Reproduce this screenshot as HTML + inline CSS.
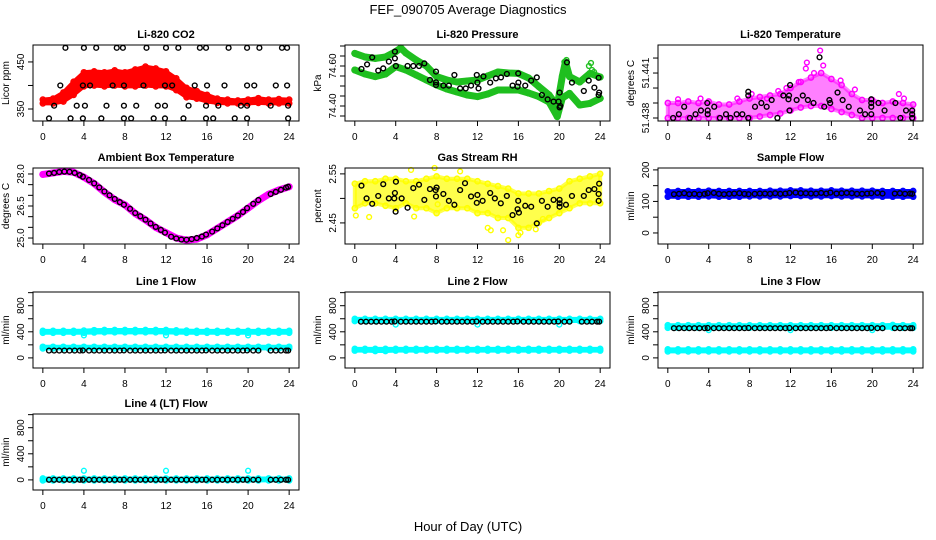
<!DOCTYPE html>
<html><head><meta charset="utf-8"><title>FEF_090705 Average Diagnostics</title>
<style>
html,body{margin:0;padding:0;background:#fff;}
svg{display:block;font-family:"Liberation Sans",sans-serif;}
</style></head>
<body>
<svg id="chart" width="936" height="540" viewBox="0 0 936 540" xmlns="http://www.w3.org/2000/svg">
<rect width="936" height="540" fill="#fff"/>
<text x="468" y="14" text-anchor="middle" font-size="13">FEF_090705  Average Diagnostics</text>
<text x="468" y="531" text-anchor="middle" font-size="13">Hour of Day (UTC)</text>
</svg>
<script>
// ---------- shared data ----------
const BLACK_HOURS=[0.6,1.1,1.6,2.1,2.6,3.1,3.6,3.9,4.5,5.0,5.5,6.0,6.5,7.0,7.5,7.9,8.5,9.0,9.5,10.0,10.5,11.0,11.5,11.9,12.5,13.0,13.5,14.0,14.5,15.0,15.5,15.9,16.5,17.0,17.5,18.0,18.5,19.0,19.5,19.9,20.5,21.0,22.2,22.7,23.2,23.7,23.9];
const HOURS=[0,1,2,3,4,5,6,7,8,9,10,11,12,13,14,15,16,17,18,19,20,21,22,23,24];
const X_TICKS=[0,4,8,12,16,20,24];

// CO2
const co2BlackX=[2.2,4.0,5.2,7.2,7.8,10.1,12.0,13.2,15.3,15.9,18.1,19.9,21.1,23.3,23.8, 1.7,3.9,4.6,6.8,7.9,9.8,11.9,12.6,14.8,16.0,17.7,19.9,20.6,22.7,23.8, 1.1,3.3,4.1,6.2,7.9,9.1,11.2,11.9,14.2,15.9,17.1,19.3,19.9,22.2,23.9, 0.6,2.7,3.9,5.7,7.9,8.6,10.8,11.9,13.7,15.9,16.6,18.7,19.9,23.9];
const co2BlackY=[480,480,480,480,480,480,480,480,480,480,480,480,480,480,480, 400,400,400,400,400,400,400,400,400,400,400,400,400,400,400, 357,357,357,357,357,357,357,357,357,357,357,357,357,357,357, 330,330,330,330,330,330,330,330,330,330,330,330,330,330];
const co2RedLo=[362,362,366,380,398,400,398,400,398,398,400,398,398,390,375,372,366,363,362,362,362,363,362,362,362];
const co2RedHi=[370,372,385,408,428,430,428,432,428,434,440,436,430,415,395,388,380,372,370,368,370,373,370,371,370];

// Pressure
const presUpX=[0,1,2,3,4,4.5,5,6,7,8,9,10,11,12,13,14,15,16,17,18,19,19.8,20.3,20.6,21,22,23,24];
const presUpY=[74.663,74.645,74.638,74.645,74.672,74.69,74.665,74.63,74.6,74.547,74.53,74.52,74.525,74.53,74.55,74.57,74.565,74.563,74.54,74.497,74.455,74.40,74.55,74.62,74.547,74.52,74.563,74.545];
const presLoX=[0,1,2,3,4,5,6,7,8,9,10,11,12,13,14,15,16,17,18,19,19.8,20.3,21,22,23,24];
const presLoY=[74.58,74.56,74.547,74.56,74.597,74.58,74.555,74.53,74.505,74.485,74.47,74.455,74.447,74.46,74.48,74.48,74.48,74.465,74.447,74.42,74.347,74.44,74.463,74.405,74.413,74.438];
const presOutX=[20.5,20.7,23.1,23.2,23.4,22.9];
const presOutY=[74.62,74.63,74.615,74.58,74.57,74.60];
const presBlackX=[0.65,1.2,1.7,2.29,2.78,3.33,3.92,3.92,4.02,5.16,5.72,6.28,6.8,7.35,7.94,7.94,7.94,8.66,9.2,9.74,10.3,10.85,11.37,11.93,11.99,12.1,12.58,13.24,13.8,14.3,14.87,15.43,15.92,16.0,15.98,16.67,17.25,17.8,18.3,18.86,19.44,19.93,20.03,20.03,20.1,20.75,21.24,22.4,22.88,23.43,23.85,23.85,23.9];
const presBlackY=[74.585,74.608,74.643,74.577,74.588,74.622,74.672,74.638,74.60,74.60,74.60,74.60,74.613,74.53,74.572,74.505,74.518,74.502,74.502,74.555,74.488,74.488,74.502,74.555,74.517,74.488,74.548,74.517,74.538,74.543,74.56,74.502,74.497,74.517,74.563,74.502,74.527,74.543,74.455,74.433,74.422,74.422,74.393,74.467,74.40,74.618,74.517,74.475,74.527,74.492,74.541,74.455,74.467];

// Li-820 temperature
const tempHi=[51.4390,51.4390,51.4391,51.4390,51.4391,51.4389,51.4389,51.4391,51.4393,51.4394,51.4395,51.4396,51.4400,51.4404,51.4407,51.4410,51.4406,51.4402,51.4396,51.4392,51.4392,51.4390,51.4391,51.4390,51.4389];
const tempLo=[51.4380,51.4380,51.4380,51.4380,51.4380,51.4380,51.4380,51.4380,51.4380,51.4381,51.4382,51.4383,51.4385,51.4387,51.4388,51.4388,51.4386,51.4384,51.4382,51.4380,51.4380,51.4380,51.4380,51.4380,51.4380];
const tempOutX=[3.2,6.8,8.2,9.7,12.8,13.5,13.6,14.3,14.9,15.2,16.9,18.3,22.6,23.1,1.0,10.8,11.6];
const tempOutY=[51.4393,51.4393,51.4396,51.4393,51.4404,51.4413,51.4417,51.4410,51.4425,51.4415,51.4405,51.4399,51.4396,51.4393,51.43925,51.4398,51.4400];
const tempBlackX=[0.52,1.08,1.6,2.16,2.71,3.24,3.86,3.9,3.9,4.54,5.1,5.69,6.14,6.73,7.29,7.87,7.87,7.87,8.53,9.15,9.67,10.16,10.72,11.3,11.8,11.86,11.9,11.96,12.6,13.2,13.7,14.25,14.84,15.3,15.8,15.88,16.6,17.1,17.7,18.8,19.3,19.9,19.9,19.9,19.9,20.6,21.2,22.26,22.75,23.3,23.9,23.9,23.9];
const tempBlackY=[51.4380,51.43825,51.43875,51.4380,51.43825,51.4385,51.4390,51.4385,51.43825,51.43875,51.4380,51.43825,51.4380,51.43825,51.43825,51.4395,51.43975,51.4380,51.43875,51.4390,51.43875,51.4392,51.4380,51.4395,51.43925,51.4395,51.4385,51.4402,51.4392,51.4395,51.4392,51.4390,51.44205,51.43875,51.4392,51.4390,51.4397,51.4392,51.43875,51.4385,51.43825,51.4390,51.43925,51.43875,51.43825,51.4390,51.4385,51.4390,51.4380,51.4385,51.4385,51.43825,51.4380];

// Ambient box temperature
const ambLine=[27.98,28.05,28.12,28.08,27.85,27.55,27.15,26.8,26.55,26.15,25.85,25.5,25.25,25.0,24.9,24.95,25.15,25.45,25.75,26.05,26.4,26.75,27.05,27.25,27.4];
const ambBlack=[28.02,28.05,28.09,28.11,28.1,28.05,27.95,27.87,27.72,27.56,27.37,27.18,27.0,26.83,26.68,26.56,26.37,26.17,26.02,25.86,25.68,25.52,25.38,25.25,25.06,24.98,24.93,24.92,24.95,25.0,25.07,25.16,25.3,25.45,25.6,25.75,25.9,26.05,26.22,26.4,26.6,26.78,27.06,27.16,27.26,27.36,27.4];

// Gas stream RH
const rhHi=[2.53,2.535,2.535,2.54,2.54,2.535,2.535,2.54,2.545,2.54,2.54,2.54,2.535,2.53,2.525,2.52,2.51,2.51,2.51,2.515,2.52,2.535,2.54,2.545,2.55];
const rhLo=[2.48,2.49,2.49,2.485,2.48,2.49,2.48,2.48,2.47,2.48,2.48,2.48,2.47,2.47,2.46,2.46,2.44,2.44,2.45,2.46,2.47,2.48,2.49,2.49,2.49];
const rhOutX=[0.1,1.4,5.8,13.0,13.3,14.5,15.0,16.0,16.2,17.7,8.1,7.8,5.5,10.3,18.4];
const rhOutY=[2.465,2.462,2.463,2.44,2.435,2.435,2.415,2.425,2.43,2.437,2.488,2.562,2.558,2.555,2.458];
const rhBlackX=[0.65,1.15,1.7,2.29,2.78,3.33,3.86,3.92,4.02,3.99,4.58,5.16,5.72,6.28,6.8,7.35,7.9,7.94,8.0,8.66,9.2,9.74,10.3,10.78,11.37,11.93,11.99,12.5,13.24,13.7,14.28,14.87,15.43,15.92,15.98,16.05,16.67,17.25,17.8,18.3,18.86,19.44,20.03,20.03,20.03,20.65,21.24,22.4,22.88,23.43,23.85,23.85,23.9];
const rhBlackY=[2.526,2.500,2.489,2.505,2.529,2.500,2.500,2.511,2.534,2.473,2.500,2.481,2.521,2.528,2.497,2.519,2.517,2.504,2.522,2.509,2.495,2.487,2.517,2.531,2.504,2.491,2.507,2.495,2.511,2.500,2.490,2.505,2.466,2.478,2.495,2.471,2.485,2.483,2.449,2.495,2.483,2.497,2.490,2.497,2.483,2.487,2.505,2.505,2.517,2.519,2.495,2.509,2.530];

// Sample flow
const sampleLo=[115,115,115,115,116,115,115,115,116,116,116,116,117,117,116,116,117,116,116,116,116,115,115,115,115];
const sampleHi=[132,133,133,133,134,133,133,133,133,133,134,134,135,135,134,134,135,134,134,134,134,133,133,133,133];
const sampleBlack=[123,124,126,123,124,122,124,126,127,124,123,124,125,126,124,123,124,125,125,124,126,124,125,127,128,126,126,125,125,127,125,128,125,126,127,126,124,124,125,126,127,125,125,126,124,125,124];

// Line flows (cyan bands + black)
const l1UpLo=[385,385,385,385,385,390,392,392,392,392,392,392,392,388,385,385,385,385,385,385,385,385,385,385,385];
const l1UpHi=[415,415,415,415,418,425,428,428,428,428,428,428,428,422,418,415,415,415,415,415,415,415,415,415,415];
const l1DnLo=[145,145,145,145,145,145,145,145,145,145,145,145,145,145,145,145,145,145,145,145,145,145,145,145,145];
const l1DnHi=[170,170,170,170,170,170,170,170,170,170,170,170,170,170,170,170,170,170,170,170,170,170,170,170,170];
const l1Black=[112,112,112,112,112,112,112,114,112,112,112,112,112,112,112,114,112,112,112,112,112,112,112,114,112,112,112,112,112,112,112,114,112,112,112,112,112,112,112,114,112,112,112,112,112,112,112];
const l2UpLo=[565,565,565,565,565,565,565,565,565,565,565,565,565,565,565,565,565,565,565,565,565,565,565,565,565];
const l2UpHi=[598,598,598,598,598,598,598,598,598,598,598,598,598,598,598,598,598,598,598,598,598,598,598,598,598];
const l2DnLo=[112,112,105,105,112,112,112,112,112,112,112,112,112,112,112,112,112,112,112,112,112,112,112,112,112];
const l2DnHi=[138,138,138,138,138,138,138,138,138,138,138,138,138,138,138,138,138,138,138,138,138,138,138,138,138];
const l2Black=[555,555,555,555,555,555,555,558,555,555,555,555,555,555,555,558,555,555,555,555,555,555,555,558,555,555,555,555,555,555,555,558,555,555,555,555,555,555,555,558,555,555,555,555,555,555,555];
const l3UpLo=[462,462,462,462,462,462,462,462,462,462,462,462,462,462,462,462,462,462,462,462,462,462,462,462,462];
const l3UpHi=[500,500,500,500,500,500,500,500,500,500,500,500,500,500,500,500,500,500,500,500,500,500,505,500,500];
const l3DnLo=[100,100,100,100,100,100,100,100,100,100,100,100,100,100,100,100,100,100,100,100,100,100,100,100,100];
const l3DnHi=[130,130,130,130,130,130,130,130,130,130,130,130,130,130,130,130,130,130,130,130,130,130,130,130,130];
const l3Black=[455,455,455,455,455,455,455,458,455,455,455,455,455,455,455,458,455,455,455,455,455,455,455,458,455,455,455,455,455,455,455,460,455,455,455,455,455,455,455,460,455,455,455,455,455,455,455];
const l4Lo=[-8,-8,-8,-8,-8,-8,-8,-8,-8,-8,-8,-8,-8,-8,-8,-8,-8,-8,-8,-8,-8,-8,-8,-8,-8];
const l4Hi=[22,22,22,22,22,22,22,22,22,22,22,22,22,22,22,22,22,22,22,22,22,22,22,22,22];
const l4Black=[2,2,2,2,2,2,2,2,2,2,2,2,2,2,2,2,2,2,2,2,2,2,2,2,2,2,2,2,2,2,2,2,2,2,2,2,2,2,2,2,2,2,2,2,2,2,2];
const dipHours=[4,12,20];
const l1Dip=[345,345,345];
const l2Dip=[510,510,510];
const l3Dip=[425,425,425];
const l4Dip=[140,140,140];

// ---------- drawing ----------
const NS='http://www.w3.org/2000/svg';
const svg=document.getElementById('chart');
const COLS=[{x0:33,x1:299},{x0:345,x1:610},{x0:658,x1:923}];
const ROWS=[45,168,292,414];
const PH=76;
function mk(tag,attrs,parent){const e=document.createElementNS(NS,tag);for(const k in attrs)e.setAttribute(k,attrs[k]);(parent||svg).appendChild(e);return e;}

function panel(col,row,title,ytitle,ydom,yticks,ylabels,name){
  const c=COLS[col],top=ROWS[row],bot=top+PH;
  const g=mk('g',{});
  
  
  const sx=h=>c.x0+(h+0.96)/25.92*(c.x1-c.x0);
  const sy=v=>bot-(v-ydom[0])/(ydom[1]-ydom[0])*PH;
  const t=mk('text',{x:(c.x0+c.x1)/2,y:top-7,'text-anchor':'middle','font-size':'11','font-weight':'bold'},g);
  t.textContent=title;
  
  
  const xa=mk('g',{},g);
  
  
  X_TICKS.forEach(h=>{
    mk('line',{x1:sx(h),x2:sx(h),y1:bot,y2:bot+5,stroke:'#000','stroke-width':1},xa);
    const tl=mk('text',{x:sx(h),y:bot+19,'text-anchor':'middle','font-size':'10'},xa);
    tl.textContent=String(h);
  });
  const ya=mk('g',{},g);
  
  
  yticks.forEach((v,i)=>{
    mk('line',{x1:c.x0-5,x2:c.x0,y1:sy(v),y2:sy(v),stroke:'#000','stroke-width':1},ya);
    if(ylabels[i]){
      const lx=c.x0-9,ly=sy(v);
      const tl=mk('text',{x:lx,y:ly,'text-anchor':'middle','font-size':'10',transform:`rotate(-90 ${lx} ${ly})`},ya);
      tl.textContent=ylabels[i];
    }
  });
  const yt=mk('text',{x:c.x0-24,y:(top+bot)/2,'text-anchor':'middle','font-size':'10',transform:`rotate(-90 ${c.x0-24} ${(top+bot)/2})`},g);
  yt.textContent=ytitle;
  
  
  const clip=mk('g',{},g);
  
  
  mk('rect',{x:c.x0,y:top,width:c.x1-c.x0,height:PH,fill:'none',stroke:'#000','stroke-width':1},g);
  return {g:clip,sx,sy};
}
function points(p,xs,ys,color,name){
  const g=mk('g',{},p.g);
  
  
  xs.forEach((x,i)=>mk('circle',{cx:p.sx(x),cy:p.sy(ys[i]),r:2.4,fill:'none',stroke:color,'stroke-width':1.4},g));
}
function band(p,xs,lo,hi,color,name,op){
  const g=mk('g',{},p.g);
  
  
  let pts=xs.map((x,i)=>p.sx(x)+','+p.sy(hi[i])).concat(xs.slice().reverse().map((x,j)=>{const i=xs.length-1-j;return p.sx(x)+','+p.sy(lo[i]);}));
  mk('polygon',{points:pts.join(' '),fill:color,'fill-opacity':op||1,stroke:color,'stroke-opacity':op||1,'stroke-width':4,'stroke-linejoin':'round'},g);
  xs.forEach((x,i)=>{
    mk('circle',{cx:p.sx(x),cy:p.sy(hi[i]),r:2.6,fill:'none',stroke:color,'stroke-width':1.5},g);
    mk('circle',{cx:p.sx(x),cy:p.sy(lo[i]),r:2.6,fill:'none',stroke:color,'stroke-width':1.5},g);
  });
}
function thickLine(p,xs,ys,color,w,name){
  const g=mk('g',{},p.g);
  
  
  mk('polyline',{points:xs.map((x,i)=>p.sx(x)+','+p.sy(ys[i])).join(' '),fill:'none',stroke:color,'stroke-width':w,'stroke-linejoin':'round','stroke-linecap':'round'},g);
  xs.forEach((x,i)=>mk('circle',{cx:p.sx(x),cy:p.sy(ys[i]),r:2.8,fill:'none',stroke:color,'stroke-width':1.5},g));
}

const RED='#ff0000',GREEN='#1fbf1f',MAG='#ff00ff',YEL='#ffff00',BLUE='#0000ff',CYAN='#00ffff',BLK='#000';
const FLOW_T=[0,200,400,600,800,1000],FLOW_L=['0','','400','','800',''];

// CO2
let p=panel(0,0,'Li-820 CO2','Licor ppm',[324.5,486],[350,400,450],['350','','450'],'co2');
band(p,HOURS,co2RedLo,co2RedHi,RED,'co2-red-series');
points(p,co2BlackX,co2BlackY,BLK,'co2-black-series');

// Pressure
p=panel(1,0,'Li-820 Pressure','kPa',[74.325,74.705],[74.35,74.40,74.45,74.50,74.55,74.60,74.65,74.70],['','74.40','','','','74.60','',''],'pressure');
thickLine(p,presUpX,presUpY,GREEN,7,'pressure-green-upper');
thickLine(p,presLoX,presLoY,GREEN,7,'pressure-green-lower');
points(p,presOutX,presOutY,GREEN,'pressure-green-outliers');
points(p,presBlackX,presBlackY,BLK,'pressure-black-series');

// Li-820 temperature
p=panel(2,0,'Li-820 Temperature','degrees C',[51.4378,51.44287],[51.438,51.439,51.440,51.441,51.442],['51.438','','','51.441',''],'li820-temp');
band(p,HOURS,tempLo,tempHi,MAG,'li820-temp-magenta-series',0.5);
points(p,tempOutX,tempOutY,MAG,'li820-temp-magenta-outliers');
points(p,tempBlackX,tempBlackY,BLK,'li820-temp-black-series');

// Ambient
p=panel(0,1,'Ambient Box Temperature','degrees C',[24.72,28.28],[25,25.5,26,26.5,27,27.5,28],['25.0','','','26.5','','','28.0'],'ambient');
thickLine(p,HOURS,ambLine,MAG,7,'ambient-magenta-series');
points(p,BLACK_HOURS,ambBlack,BLK,'ambient-black-series');

// Gas stream RH
p=panel(1,1,'Gas Stream RH','percent',[2.407,2.562],[2.45,2.50,2.55],['2.45','','2.55'],'gas-rh');
band(p,HOURS,rhLo,rhHi,YEL,'gas-rh-yellow-series',0.7);
points(p,rhOutX,rhOutY,YEL,'gas-rh-yellow-outliers');
points(p,rhBlackX,rhBlackY,BLK,'gas-rh-black-series');

// Sample flow
p=panel(2,1,'Sample Flow','ml/min',[-35,206],[0,50,100,150,200],['0','','100','','200'],'sample-flow');
band(p,HOURS,sampleLo,sampleHi,BLUE,'sample-flow-blue-series');
points(p,BLACK_HOURS,sampleBlack,BLK,'sample-flow-black-series');

// Line 1
p=panel(0,2,'Line 1 Flow','ml/min',[-155,1010],FLOW_T,FLOW_L,'line1-flow');
band(p,HOURS,l1UpLo,l1UpHi,CYAN,'line1-cyan-upper');
band(p,HOURS,l1DnLo,l1DnHi,CYAN,'line1-cyan-lower');
points(p,dipHours,l1Dip,CYAN,'line1-cyan-dips');
points(p,BLACK_HOURS,l1Black,BLK,'line1-black-series');

// Line 2
p=panel(1,2,'Line 2 Flow','ml/min',[-155,1010],FLOW_T,FLOW_L,'line2-flow');
band(p,HOURS,l2UpLo,l2UpHi,CYAN,'line2-cyan-upper');
band(p,HOURS,l2DnLo,l2DnHi,CYAN,'line2-cyan-lower');
points(p,dipHours,l2Dip,CYAN,'line2-cyan-dips');
points(p,BLACK_HOURS,l2Black,BLK,'line2-black-series');

// Line 3
p=panel(2,2,'Line 3 Flow','ml/min',[-155,1010],FLOW_T,FLOW_L,'line3-flow');
band(p,HOURS,l3UpLo,l3UpHi,CYAN,'line3-cyan-upper');
band(p,HOURS,l3DnLo,l3DnHi,CYAN,'line3-cyan-lower');
points(p,dipHours,l3Dip,CYAN,'line3-cyan-dips');
points(p,BLACK_HOURS,l3Black,BLK,'line3-black-series');

// Line 4
p=panel(0,3,'Line 4 (LT) Flow','ml/min',[-155,1010],FLOW_T,FLOW_L,'line4-flow');
band(p,HOURS,l4Lo,l4Hi,CYAN,'line4-cyan-series');
points(p,dipHours,l4Dip,CYAN,'line4-cyan-spikes');
points(p,BLACK_HOURS,l4Black,BLK,'line4-black-series');
</script>
</body></html>
